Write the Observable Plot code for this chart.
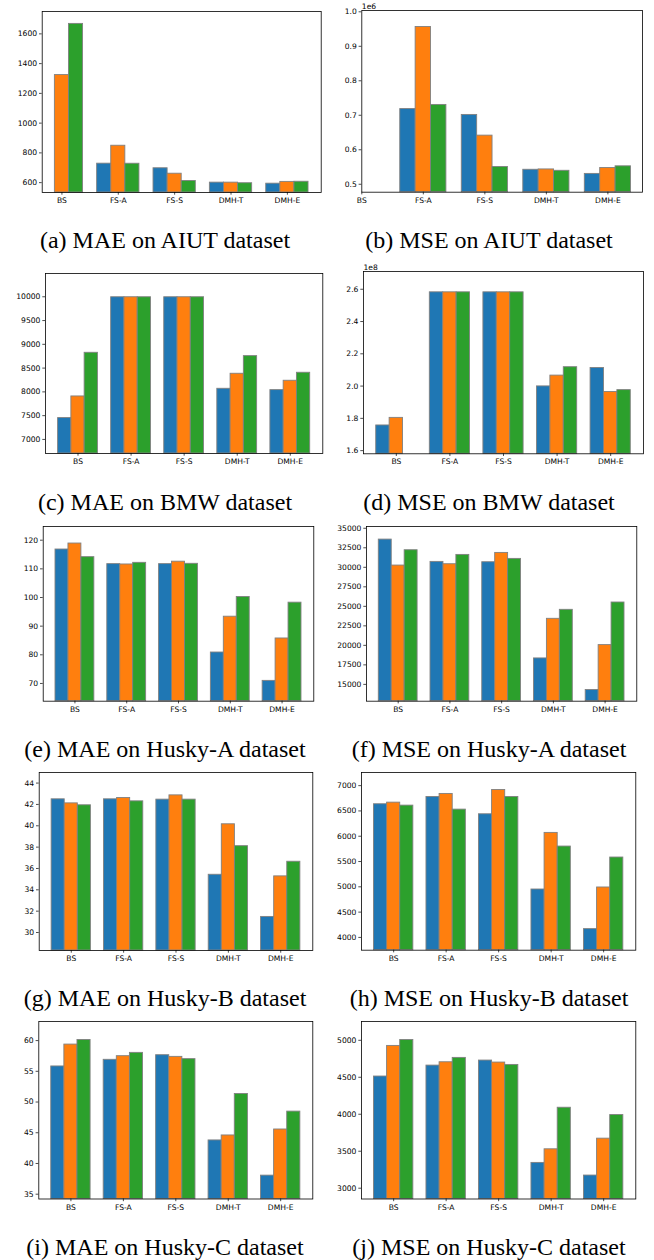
<!DOCTYPE html>
<html><head><meta charset="utf-8">
<script src="https://cdn.jsdelivr.net/npm/d3@7"></script>
<script src="https://cdn.jsdelivr.net/npm/@observablehq/plot@0.6"></script>
<style>
body{margin:0;background:#fff;}
#fig{position:relative;width:654px;height:1260px;overflow:hidden;background:#fff;}
.panel{position:absolute;}
.cap{position:absolute;font-family:"Liberation Serif","Times New Roman",serif;font-size:24px;line-height:24px;white-space:nowrap;transform:translateX(-50%);color:#000;}
</style></head><body><div id="fig"></div><script>
// ---- data ----
const categories = ["BS", "FS-A", "FS-S", "DMH-T", "DMH-E"];
const seriesNames = ["series 1", "series 2", "series 3"];
const seriesColors = ["#1f77b4", "#ff7f0e", "#2ca02c"];

const maeAIUT   = [[null, 727.5, 696.6, 600, 593], [1323, 848, 660, 600, 605], [1667, 727, 611, 596, 606]];
const mseAIUT   = [[null, 0.718, 0.701, 0.542, 0.530], [null, 0.956, 0.641, 0.543, 0.547], [null, 0.730, 0.550, 0.539, 0.552]]; // x1e6
const maeBMW    = [[7449, 9990, 9990, 8065, 8037], [7904, 9990, 9990, 8381, 8234], [8822, 9990, 9990, 8752, 8402]];
const mseBMW    = [[1.756, 2.581, 2.581, 1.998, 2.112], [1.803, 2.581, 2.581, 2.065, 1.963], [null, 2.581, 2.581, 2.117, 1.975]]; // x1e8
const maeHuskyA = [[116.75, 111.65, 111.65, 80.8, 70.9], [118.84, 111.53, 112.5, 93.3, 85.7], [114.08, 112.1, 111.76, 100.16, 98.2]];
const mseHuskyA = [[33550, 30693, 30650, 18326, 14275], [30224, 30394, 31844, 23401, 20032], [32186, 31588, 31077, 24552, 25490]];
const maeHuskyB = [[42.48, 42.48, 42.45, 35.41, 31.46], [42.10, 42.60, 42.85, 40.14, 35.26], [41.92, 42.29, 42.45, 38.09, 36.63]];
const mseHuskyB = [[6632, 6776, 6434, 4947, 4164], [6664, 6836, 6914, 6066, 4987], [6605, 6526, 6776, 5796, 5579]];
const maeHuskyC = [[55.79, 56.87, 57.62, 43.75, 38.02], [59.35, 57.46, 57.35, 44.56, 45.53], [60.10, 58.00, 56.98, 51.31, 48.44]];
const mseHuskyC = [[4510, 4658, 4726, 3342, 3171], [4924, 4703, 4699, 3526, 3670], [5004, 4762, 4667, 4088, 3989]];

const ticksAIUTmae = [600, 800, 1000, 1200, 1400, 1600];
const ticksAIUTmse = [0.5, 0.6, 0.7, 0.8, 0.9, 1.0];
const ticksBMWmae = [7000, 7500, 8000, 8500, 9000, 9500, 10000];
const ticksBMWmse = [1.6, 1.8, 2.0, 2.2, 2.4, 2.6];
const ticksHAmae = [70, 80, 90, 100, 110, 120];
const ticksHAmse = [15000, 17500, 20000, 22500, 25000, 27500, 30000, 32500, 35000];
const ticksHBmae = [30, 32, 34, 36, 38, 40, 42, 44];
const ticksHBmse = [4000, 4500, 5000, 5500, 6000, 6500, 7000];
const ticksHCmae = [35, 40, 45, 50, 55, 60];
const ticksHCmse = [3000, 3500, 4000, 4500, 5000];

const captions = ["(a) MAE on AIUT dataset", "(b) MSE on AIUT dataset", "(c) MAE on BMW dataset", "(d) MSE on BMW dataset",
  "(e) MAE on Husky-A dataset", "(f) MSE on Husky-A dataset", "(g) MAE on Husky-B dataset", "(h) MSE on Husky-B dataset",
  "(i) MAE on Husky-C dataset", "(j) MSE on Husky-C dataset"];
const offsetLabels = [null, "1e6", null, "1e8", null, null, null, null, null, null];

// ---- layout (frame positions in page pixels) ----
const panels = [
  {v: maeAIUT, t: ticksAIUTmae, dec: 0, col: 0, L: 41.7, R: 320.7, T: 10.7, B: 191.7},
  {v: mseAIUT, t: ticksAIUTmse, dec: 1, col: 1, L: 361.3, R: 642, T: 10, B: 191.7},
  {v: maeBMW, t: ticksBMWmae, dec: 0, col: 0, L: 45, R: 322.3, T: 273.3, B: 453.3},
  {v: mseBMW, t: ticksBMWmse, dec: 1, col: 1, L: 363, R: 643, T: 271, B: 453.3},
  {v: maeHuskyA, t: ticksHAmae, dec: 0, col: 0, L: 42.7, R: 313.3, T: 526, B: 700.7},
  {v: mseHuskyA, t: ticksHAmse, dec: 0, col: 1, L: 366, R: 636.3, T: 526, B: 700.7},
  {v: maeHuskyB, t: ticksHBmae, dec: 0, col: 0, L: 38.7, R: 312.3, T: 771.7, B: 949.7},
  {v: mseHuskyB, t: ticksHBmse, dec: 0, col: 1, L: 361, R: 635.3, T: 772, B: 949.7},
  {v: maeHuskyC, t: ticksHCmae, dec: 0, col: 0, L: 38.3, R: 312.3, T: 1021.2, B: 1198.7},
  {v: mseHuskyC, t: ticksHCmse, dec: 0, col: 1, L: 361, R: 635.3, T: 1021.2, B: 1198.7}
];
const captionCenters = [{x: 165, y: 240}, {x: 489, y: 240}, {x: 165, y: 502}, {x: 489, y: 502},
  {x: 165, y: 749}, {x: 489, y: 749}, {x: 165, y: 998}, {x: 489, y: 998}, {x: 165, y: 1247}, {x: 489, y: 1247}];

const fig = document.getElementById("fig");
const barW = 0.25;
const FS = 7.6;

panels.forEach((p, idx) => {
  const rows = [];
  p.v.forEach((vals, k) => vals.forEach((val, i) => {
    if (val == null) return;
    const x1 = i + (k - 1) * barW - barW / 2;
    rows.push({cat: categories[i], series: seriesNames[k], value: val, x1, x2: x1 + barW});
  }));
  const vmin = d3.min(rows, d => d.value), vmax = d3.max(rows, d => d.value);
  const yDomain = [vmin * 0.9, vmax * 1.05];
  const lo = d3.min(rows, d => d.x1), hi = d3.max(rows, d => d.x2);
  const m = 0.05 * (hi - lo);
  const xDomain = [Math.min(lo - m, 0), Math.max(hi + m, categories.length - 1)];

  const colStart = p.col * 327;
  const mt = 14, mb = 18;
  const width = 327;
  const height = (p.B - p.T) + mt + mb;
  const fmt = p.dec ? (d => d.toFixed(p.dec)) : (d => String(d));

  const marks = [
    Plot.rect(rows, {x1: "x1", x2: "x2", y1: () => yDomain[0], y2: "value", fill: "series", stroke: "#808080", strokeWidth: 0.9}),
    Plot.frame({stroke: "#000", strokeWidth: 0.8}),
    Plot.axisY({ticks: p.t, tickFormat: fmt, tickSize: 2.7, tickPadding: 2.4, fontSize: FS, label: null, stroke: "#000", strokeWidth: 0.7}),
    Plot.axisX({ticks: d3.range(categories.length), tickFormat: i => categories[i], tickSize: 2.7, tickPadding: 2.4, fontSize: FS, label: null, stroke: "#000", strokeWidth: 0.7})
  ];
  if (offsetLabels[idx]) {
    marks.push(Plot.text([offsetLabels[idx]], {text: d => d, frameAnchor: "top-left", textAnchor: "start", lineAnchor: "bottom", dy: -1.5, fontSize: FS, fill: "#000"}));
  }
  const chart = Plot.plot({
    width, height,
    marginLeft: p.L - colStart, marginRight: colStart + width - p.R,
    marginTop: mt, marginBottom: mb,
    x: {domain: xDomain, axis: null},
    y: {domain: yDomain, axis: null},
    color: {domain: seriesNames, range: seriesColors},
    style: {fontFamily: "DejaVu Sans, sans-serif", fontSize: FS + "px", color: "#000", background: "transparent", overflow: "visible"},
    marks
  });
  chart.classList.add("panel");
  chart.style.left = colStart + "px";
  chart.style.top = (p.T - mt) + "px";
  fig.appendChild(chart);

  const cap = document.createElement("div");
  cap.className = "cap";
  cap.textContent = captions[idx];
  cap.style.left = captionCenters[idx].x + "px";
  cap.style.top = (captionCenters[idx].y - 12.2) + "px";
  fig.appendChild(cap);
});
</script></body></html>
